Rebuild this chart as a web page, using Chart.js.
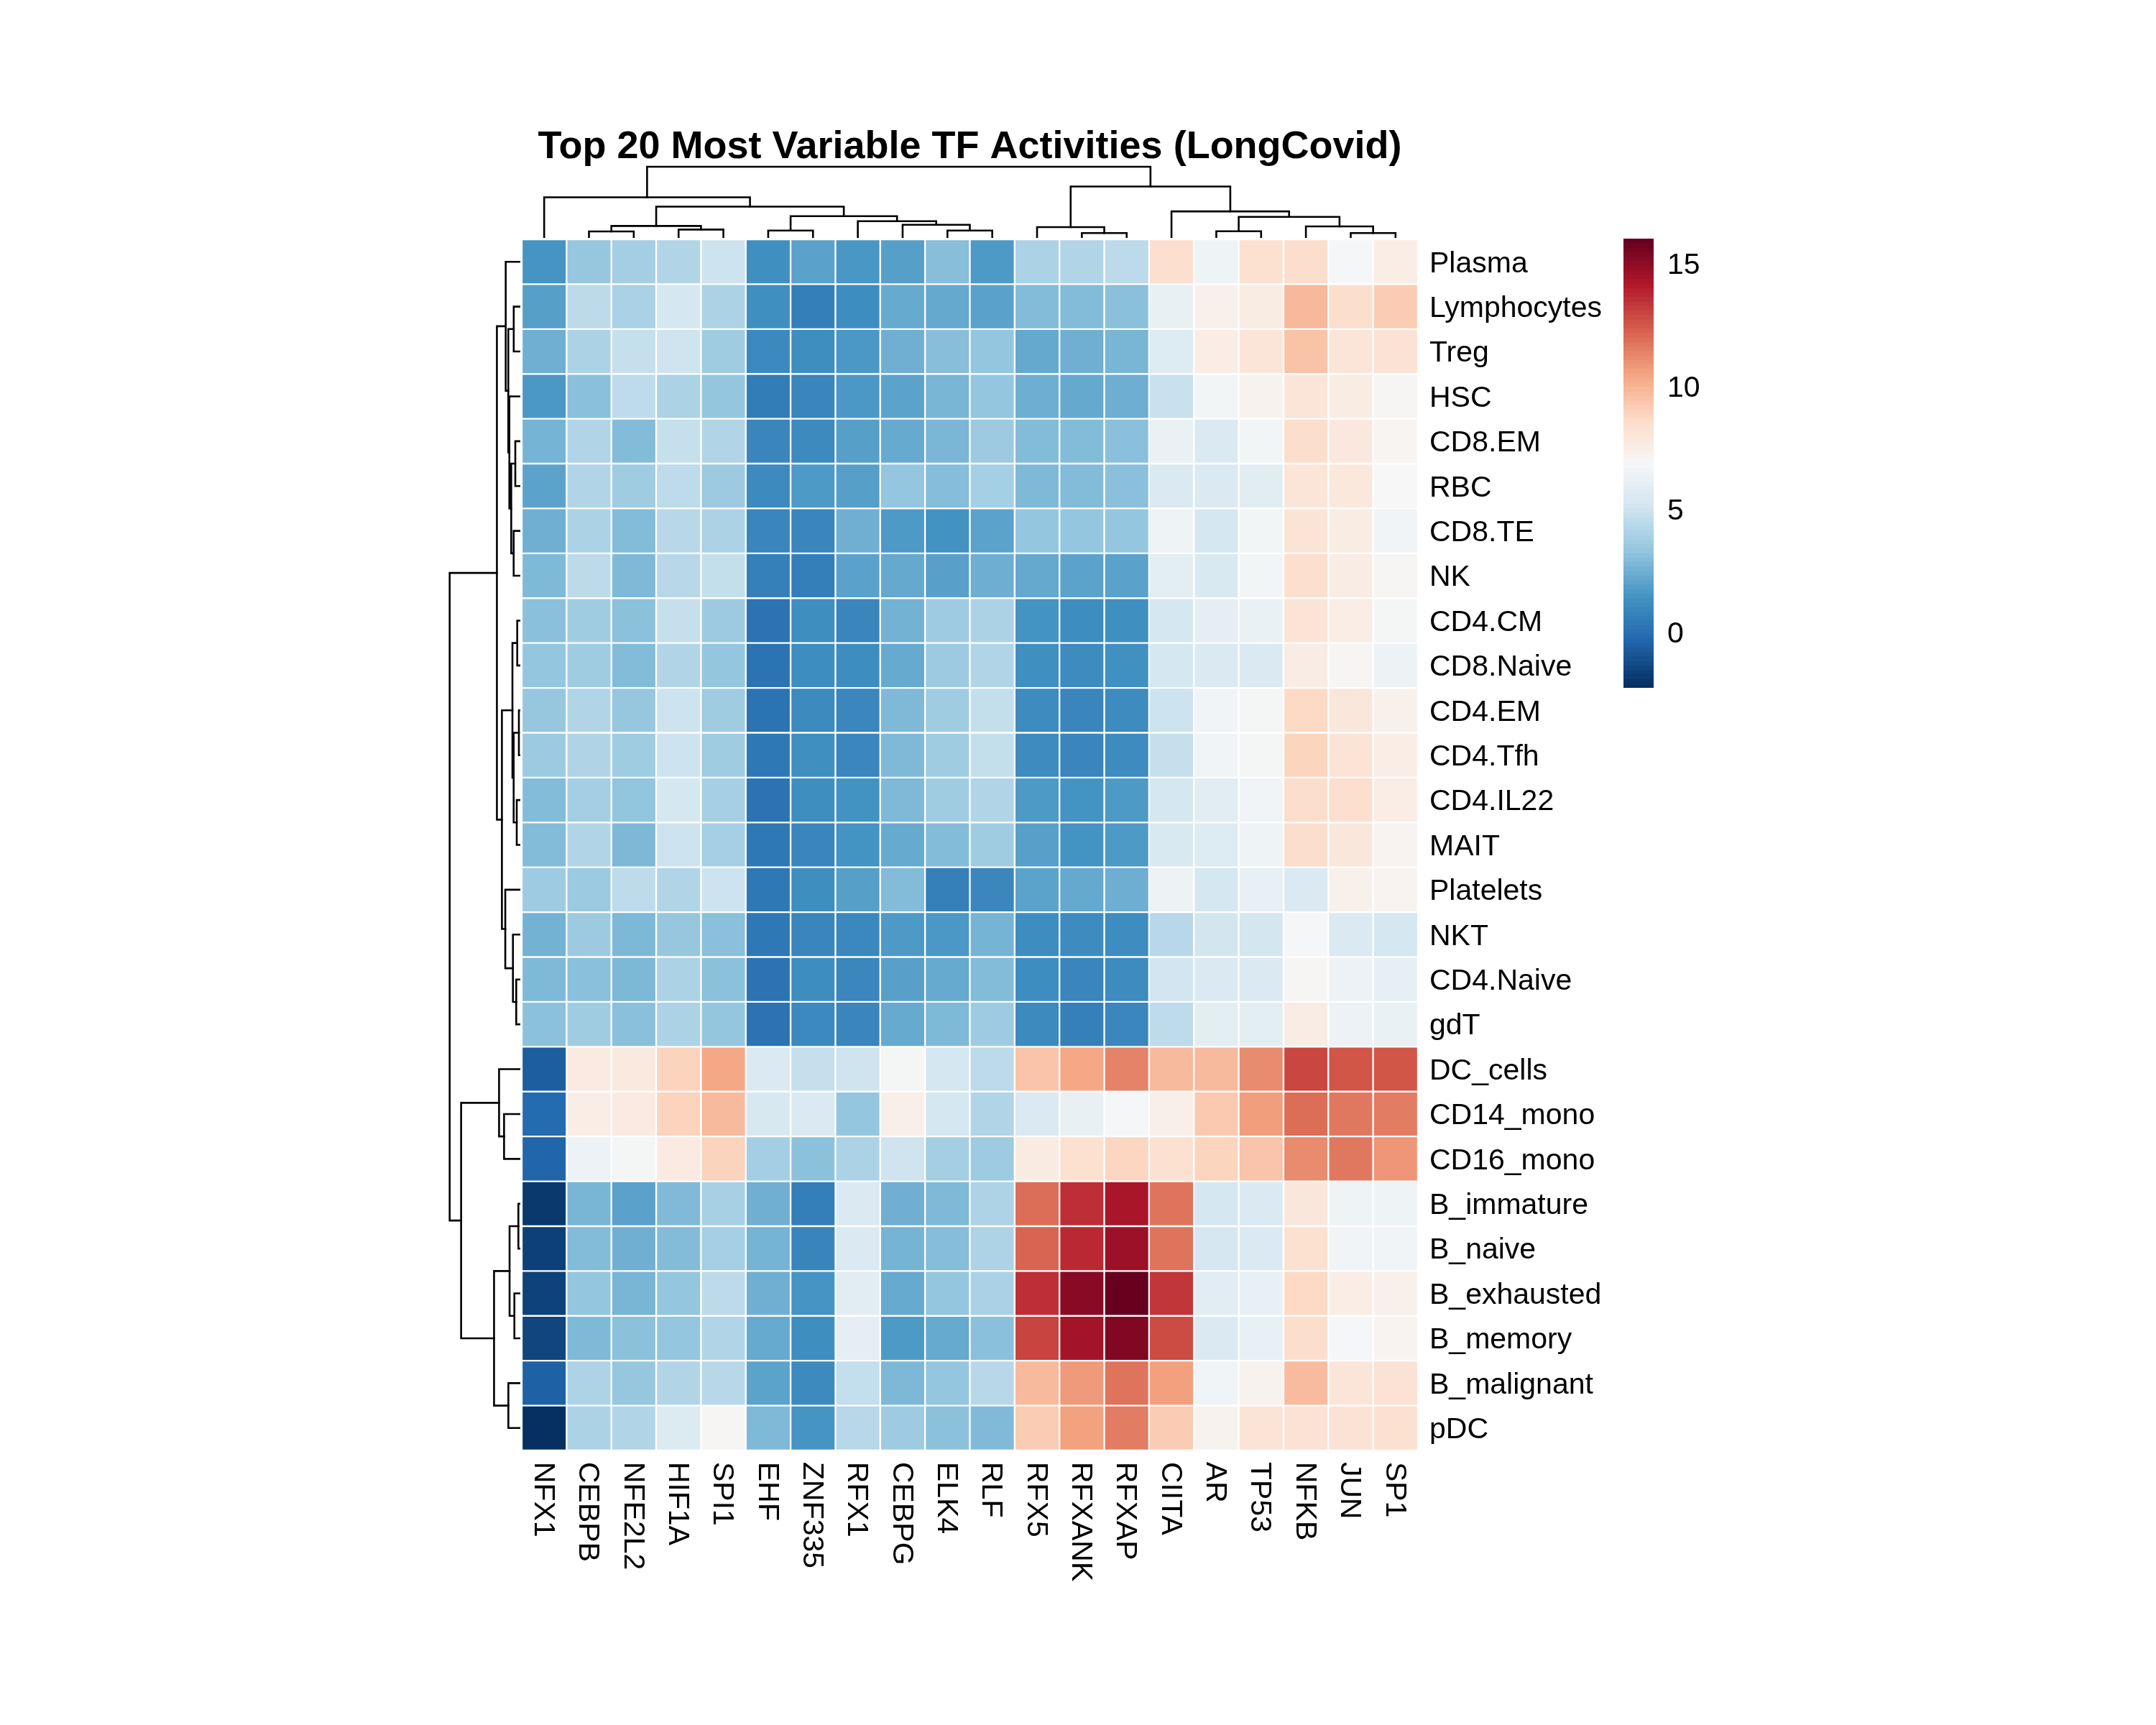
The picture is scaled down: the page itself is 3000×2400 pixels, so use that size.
<!DOCTYPE html>
<html>
<head>
<meta charset="utf-8">
<title>Top 20 Most Variable TF Activities (LongCovid)</title>
<script src="https://cdn.jsdelivr.net/npm/chart.js@4"></script>
<style>
  html, body { margin: 0; padding: 0; background: #fff; }
  #page { position: relative; width: 3000px; height: 2400px; background: #fff; overflow: hidden; }
  canvas { position: absolute; }
  #topDendro { left: 723px; top: 172px; }
  #leftDendro { left: 620px; top: 330px; }
  #heatmap { left: 726px; top: 333px; }
  #colorbar { left: 2259px; top: 332px; }
</style>
</head>
<body>
<div id="page">
  <canvas id="topDendro" width="1253" height="159"></canvas>
  <canvas id="leftDendro" width="104" height="1691"></canvas>
  <canvas id="heatmap" width="1647" height="1985"></canvas>
  <canvas id="colorbar" width="122" height="625"></canvas>
</div>
<script>
const chartTitle = 'Top 20 Most Variable TF Activities (LongCovid)';

const tfNames = ['NFX1', 'CEBPB', 'NFE2L2', 'HIF1A', 'SPI1', 'EHF', 'ZNF335', 'RFX1', 'CEBPG', 'ELK4',
    'RLF', 'RFX5', 'RFXANK', 'RFXAP', 'CIITA', 'AR', 'TP53', 'NFKB', 'JUN', 'SP1'];

const cellTypes = ['Plasma', 'Lymphocytes', 'Treg', 'HSC', 'CD8.EM', 'RBC', 'CD8.TE', 'NK', 'CD4.CM',
    'CD8.Naive', 'CD4.EM', 'CD4.Tfh', 'CD4.IL22', 'MAIT', 'Platelets', 'NKT', 'CD4.Naive', 'gdT',
    'DC_cells', 'CD14_mono', 'CD16_mono', 'B_immature', 'B_naive', 'B_exhausted', 'B_memory',
    'B_malignant', 'pDC'];

// one row per cell type, same order as tfNames
const activity = [
    [1.4, 3.3, 3.7, 4.1, 4.9, 1.2, 1.9, 1.5, 1.8, 2.95, 1.6, 3.95, 4.1, 4.4, 8.4, 6.4, 8.3, 8.5, 6.75, 7.5],
    [1.8, 4.4, 3.9, 5.2, 3.95, 1.2, 0.55, 1.1, 2.2, 2.15, 1.9, 2.85, 2.85, 3.0, 6.15, 7.3, 7.6, 9.85, 8.5, 9.2],
    [2.4, 3.95, 4.7, 4.95, 3.6, 0.95, 1.15, 1.55, 2.4, 2.95, 3.25, 2.15, 2.4, 2.6, 5.6, 7.5, 8.0, 9.5, 8.05, 8.2],
    [1.55, 3.0, 4.45, 3.95, 3.25, 0.45, 0.8, 1.55, 1.95, 2.6, 3.25, 2.35, 2.15, 2.35, 4.8, 6.6, 7.2, 8.0, 7.6, 7.0],
    [2.55, 4.1, 2.85, 4.7, 4.1, 0.8, 1.0, 1.8, 2.2, 2.65, 3.5, 2.85, 2.85, 3.0, 6.2, 5.5, 6.6, 8.5, 7.8, 7.05],
    [1.95, 4.1, 3.6, 4.45, 3.5, 1.0, 1.6, 1.8, 3.25, 2.9, 3.75, 2.75, 2.85, 3.0, 5.5, 5.5, 5.85, 8.0, 7.85, 6.85],
    [2.4, 3.95, 2.85, 4.3, 3.95, 0.8, 0.8, 2.4, 1.6, 1.3, 1.95, 3.25, 3.25, 3.25, 6.4, 5.2, 6.6, 8.1, 7.6, 6.55],
    [2.75, 4.4, 2.75, 4.3, 4.65, 0.6, 0.55, 1.9, 2.15, 1.85, 2.35, 2.15, 1.95, 1.9, 5.9, 5.4, 6.6, 8.4, 7.55, 7.0],
    [3.0, 3.6, 3.05, 4.7, 3.5, 0.05, 1.15, 0.8, 2.5, 3.55, 3.95, 1.35, 1.1, 1.2, 5.2, 5.95, 6.2, 8.1, 7.5, 6.7],
    [3.25, 3.6, 2.85, 4.1, 3.25, 0.05, 1.1, 1.1, 2.2, 3.5, 4.1, 1.2, 1.05, 1.25, 5.2, 5.5, 5.5, 7.55, 7.0, 6.35],
    [3.3, 4.1, 3.3, 4.9, 3.6, 0.05, 1.0, 0.85, 2.75, 3.6, 4.65, 1.05, 0.8, 1.05, 4.9, 6.5, 6.7, 8.7, 7.9, 7.3],
    [3.5, 4.05, 3.6, 4.9, 3.6, 0.25, 1.2, 0.85, 2.75, 3.6, 4.65, 1.05, 0.8, 1.05, 4.7, 6.5, 6.7, 8.9, 8.1, 7.5],
    [2.85, 3.7, 3.2, 5.2, 3.75, 0.05, 1.15, 1.3, 2.75, 3.6, 4.1, 1.6, 1.35, 1.6, 5.2, 5.8, 6.5, 8.5, 8.4, 7.5],
    [2.85, 4.1, 2.7, 4.9, 3.75, 0.25, 0.8, 1.35, 2.2, 2.85, 3.6, 1.85, 1.35, 1.6, 5.4, 5.6, 6.4, 8.5, 7.9, 7.1],
    [3.55, 3.45, 4.45, 4.1, 4.9, 0.25, 1.15, 1.8, 2.85, 0.6, 0.85, 1.95, 2.15, 2.35, 6.35, 5.2, 6.1, 5.5, 7.3, 7.1],
    [2.5, 3.5, 2.7, 3.3, 3.0, 0.25, 0.8, 0.9, 1.6, 1.55, 2.55, 1.1, 1.05, 1.1, 4.3, 5.1, 5.15, 6.75, 5.45, 5.2],
    [2.75, 3.0, 2.7, 3.95, 3.05, 0.05, 1.1, 0.85, 1.85, 2.2, 2.85, 1.1, 0.8, 1.05, 5.05, 5.45, 5.45, 7.0, 6.3, 6.0],
    [3.05, 3.6, 3.0, 3.95, 3.25, 0.05, 0.95, 0.8, 2.2, 2.75, 3.55, 1.0, 0.6, 0.85, 4.45, 5.9, 5.9, 7.55, 6.3, 6.2],
    [-0.75, 7.7, 7.75, 8.95, 10.4, 5.5, 4.7, 4.95, 6.7, 5.2, 4.4, 9.45, 10.4, 11.4, 9.8, 9.8, 11.2, 13.0, 12.6, 12.6],
    [-0.25, 7.5, 7.7, 8.95, 9.8, 5.35, 5.45, 3.25, 7.4, 5.2, 4.1, 5.45, 6.15, 6.75, 7.4, 9.3, 10.7, 12.0, 11.7, 11.6],
    [-0.5, 6.3, 6.7, 7.7, 8.95, 3.7, 3.05, 3.95, 4.95, 3.7, 3.55, 7.65, 8.3, 8.85, 8.3, 8.9, 9.45, 11.2, 11.7, 10.9],
    [-2.0, 2.6, 1.9, 2.8, 3.8, 2.4, 0.55, 5.5, 2.4, 2.75, 4.0, 12.0, 13.6, 14.4, 11.8, 5.2, 5.5, 7.9, 6.4, 6.4],
    [-1.75, 2.85, 2.4, 2.85, 3.75, 2.55, 0.75, 5.45, 2.55, 2.9, 4.0, 12.2, 13.75, 14.7, 11.8, 5.25, 5.5, 8.35, 6.55, 6.55],
    [-1.7, 3.25, 2.6, 3.25, 4.4, 2.4, 1.4, 5.8, 2.2, 3.25, 3.9, 13.6, 15.2, 16.0, 13.4, 5.8, 6.1, 8.7, 7.5, 7.3],
    [-1.6, 2.75, 3.05, 3.25, 4.1, 2.2, 1.15, 5.95, 1.6, 2.2, 3.0, 13.05, 14.5, 15.4, 12.85, 5.5, 6.1, 8.5, 6.75, 7.1],
    [-0.65, 4.0, 3.3, 4.1, 4.3, 1.95, 1.0, 4.6, 2.7, 3.25, 4.3, 9.8, 10.8, 11.8, 10.65, 6.5, 7.2, 9.75, 8.0, 8.2],
    [-2.3, 3.95, 4.1, 5.55, 7.0, 2.75, 1.4, 4.3, 3.55, 3.05, 2.8, 9.2, 10.6, 11.6, 9.2, 7.15, 8.15, 8.2, 8.2, 8.3]
];

// hclust style merges: negative = leaf number, positive = earlier merge number
const colMergeA = [-2, -4, 1, -6, -10, -9, -8, 4, 3, -1, -13, -12, -16, -19, -18, 13, -15, 12, 10];
const colMergeB = [-3, -5, 2, -7, -11, 5, 6, 7, 8, 9, -14, 11, -17, -20, 14, 15, 16, 17, 18];
const colHeights = [8, 10.7, 15.7, 9.3, 9.3, 17.3, 22.3, 29.3, 42.7, 55.7, 5.7, 14, 8.3, 5.7, 15, 28.3, 36, 70.7, 98.3];

const rowMergeA = [-2, -5, -7, 2, -4, 1, -1, -9, -11, -13, 9, 8, -17, -16, -15, 12, 7, -20, -19, -22, -24, 20, -26, 22, 19, 17];
const rowMergeB = [-3, -6, -8, 3, 4, 5, 6, -10, -12, -14, 10, 11, -18, 13, 14, 15, 16, -21, 18, -23, -25, 21, -27, 23, 24, 25];
const rowHeights = [8.2, 6, 8.3, 11.7, 14.3, 15.8, 19.4, 3.3, 1, 4, 8.3, 10, 4.7, 9.3, 20, 24.7, 31.7, 21.7, 28.7, 1.7, 7.3, 14, 15.7, 35.7, 81.7, 97.7];

const colorMin = -2.3;
const colorMax = 16;
const colorTicks = [0, 5, 10, 15];
const colorLevels = 100;
const rdBu = ['#053061', '#2166ac', '#4393c3', '#92c5de', '#d1e5f0', '#f7f7f7', '#fddbc7', '#f4a582', '#d6604d', '#b2182b', '#67001f'];

Chart.defaults.font.family = '"Liberation Sans", Arial, sans-serif';
Chart.defaults.color = '#000';
Chart.defaults.animation = false;
Chart.defaults.plugins.legend.display = false;
Chart.defaults.plugins.tooltip.enabled = false;

function hexToRgb(hex) {
    return [1, 3, 5].map(i => parseInt(hex.substr(i, 2), 16));
}

function colorFor(value) {
    const t = Math.min(Math.max((value - colorMin) / (colorMax - colorMin), 0), 1) * (rdBu.length - 1);
    const i = Math.min(Math.floor(t), rdBu.length - 2);
    const a = hexToRgb(rdBu[i]);
    const b = hexToRgb(rdBu[i + 1]);
    const c = a.map((v, k) => Math.round(v + (b[k] - v) * (t - i)));
    return `rgb(${c[0]},${c[1]},${c[2]})`;
}

// Turn the merge table into one polyline per merge, [position, height] pairs
function dendroSegments(mergeA, mergeB, heights) {
    const nodes = [];
    const segments = [];
    function resolve(id) {
        if (id < 0) return { pos: -id - 0.5, height: 0 };
        return nodes[id - 1];
    }
    heights.forEach((h, i) => {
        const a = resolve(mergeA[i]);
        const b = resolve(mergeB[i]);
        segments.push([[a.pos, a.height], [a.pos, h], [b.pos, h], [b.pos, b.height]]);
        nodes.push({ pos: (a.pos + b.pos) / 2, height: h });
    });
    return segments;
}

function dendroDatasets(segments, horizontal) {
    return segments.map(seg => ({
        data: seg.map(p => horizontal ? { x: p[1], y: p[0] } : { x: p[0], y: p[1] }),
        showLine: true,
        borderColor: '#000',
        borderWidth: 2.6,
        borderCapStyle: 'square',
        borderJoinStyle: 'miter',
        pointRadius: 0,
        tension: 0,
        clip: false
    }));
}

// Labels on the vertical axes must not push the chart area in
function fitVerticalAxis(scale, width) {
    scale.width = width;
    scale.paddingTop = 0;
    scale.paddingBottom = 0;
}

// Top dendrogram, carries the title
new Chart(document.getElementById('topDendro'), {
    type: 'scatter',
    data: { datasets: dendroDatasets(dendroSegments(colMergeA, colMergeB, colHeights), false) },
    options: {
        responsive: false,
        layout: { padding: { left: 3, right: 3, bottom: 1 } },
        plugins: {
            title: {
                display: true,
                text: chartTitle,
                font: { size: 54, weight: 'bold', lineHeight: 1 },
                padding: { top: 6, bottom: 0 },
                color: '#000'
            }
        },
        scales: {
            x: { type: 'linear', display: false, min: 0, max: tfNames.length },
            y: { type: 'linear', display: false, min: 0, max: 98.3 }
        }
    }
});

// Left dendrogram
new Chart(document.getElementById('leftDendro'), {
    type: 'scatter',
    data: { datasets: dendroDatasets(dendroSegments(rowMergeA, rowMergeB, rowHeights), true) },
    options: {
        responsive: false,
        layout: { padding: { left: 5.7, right: 1, top: 3, bottom: 3 } },
        scales: {
            x: { type: 'linear', display: false, reverse: true, min: 0, max: 97.7 },
            y: { type: 'linear', display: false, reverse: true, min: 0, max: cellTypes.length }
        }
    }
});

// Rotated column labels, the library only turns bottom ticks the other way round
const columnLabels = {
    id: 'columnLabels',
    afterDraw(chart) {
        const ctx = chart.ctx;
        const x = chart.scales.x;
        ctx.save();
        ctx.font = '41px "Liberation Sans", Arial, sans-serif';
        ctx.fillStyle = '#000';
        ctx.textAlign = 'left';
        ctx.textBaseline = 'middle';
        tfNames.forEach((name, i) => {
            ctx.save();
            ctx.translate(x.getPixelForValue(i + 0.5), chart.chartArea.bottom + 16);
            ctx.rotate(Math.PI / 2);
            ctx.fillText(name, 0, 2);
            ctx.restore();
        });
        ctx.restore();
    }
};

// Heatmap: horizontal stacked bars, one dataset per TF, each cell one unit wide
new Chart(document.getElementById('heatmap'), {
    type: 'bar',
    data: {
        labels: cellTypes,
        datasets: tfNames.map((name, col) => ({
            label: name,
            data: cellTypes.map(() => 1),
            backgroundColor: activity.map(row => colorFor(row[col])),
            borderColor: '#fff',
            borderWidth: 1.5,
            borderSkipped: false,
            categoryPercentage: 1,
            barPercentage: 1
        }))
    },
    options: {
        indexAxis: 'y',
        responsive: false,
        layout: { padding: { bottom: 300 } },
        scales: {
            x: { type: 'linear', stacked: true, display: false, min: 0, max: tfNames.length },
            y: {
                type: 'category',
                stacked: true,
                position: 'right',
                grid: { display: false, drawTicks: false },
                border: { display: false },
                ticks: { font: { size: 41 }, padding: 16, autoSkip: false, labelOffset: 3 },
                afterFit(scale) { fitVerticalAxis(scale, 400); }
            }
        }
    },
    plugins: [columnLabels]
});

// Colour key
new Chart(document.getElementById('colorbar'), {
    type: 'bar',
    data: {
        labels: ['key'],
        datasets: [{
            data: [[colorMin, colorMax]],
            borderWidth: 0,
            borderSkipped: false,
            categoryPercentage: 1,
            barPercentage: 1,
            backgroundColor(context) {
                const area = context.chart.chartArea;
                if (!area) return '#fff';
                const g = context.chart.ctx.createLinearGradient(0, area.bottom, 0, area.top);
                for (let i = 0; i < colorLevels; i++) {
                    const c = colorFor(colorMin + (colorMax - colorMin) * i / (colorLevels - 1));
                    g.addColorStop(i / colorLevels, c);
                    g.addColorStop((i + 1) / colorLevels, c);
                }
                return g;
            }
        }]
    },
    options: {
        responsive: false,
        scales: {
            x: { display: false },
            y: {
                type: 'linear',
                position: 'right',
                min: colorMin,
                max: colorMax,
                grid: { display: false, drawTicks: false },
                border: { display: false },
                ticks: { font: { size: 41 }, padding: 19, labelOffset: 4 },
                afterBuildTicks(scale) { scale.ticks = colorTicks.map(v => ({ value: v })); },
                afterFit(scale) { fitVerticalAxis(scale, 80); }
            }
        }
    }
});
</script>
</body>
</html>
